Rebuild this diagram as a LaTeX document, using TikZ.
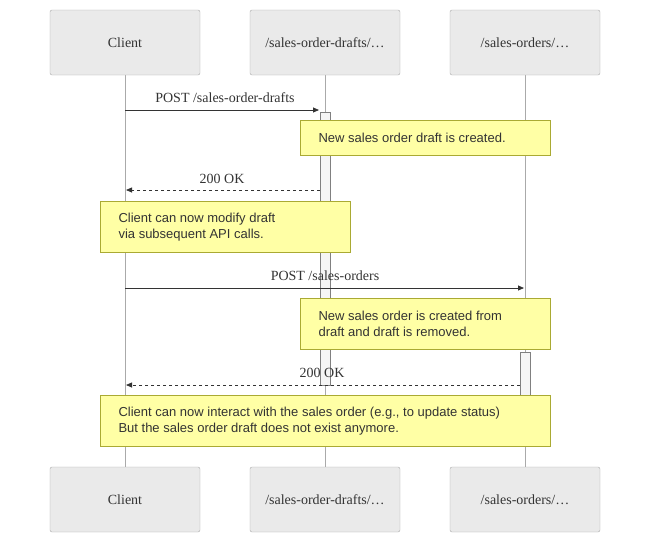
\documentclass[tikz,border=0pt]{standalone}
\usepackage{fontspec}
\setmainfont{Liberation Serif}
\newfontfamily\notefont{Liberation Sans}
\usetikzlibrary{arrows.meta}
\definecolor{actfill}{HTML}{EAEAEA}
\definecolor{actline}{HTML}{AAAAAA}
\definecolor{notefill}{HTML}{FFFFA5}
\definecolor{noteline}{HTML}{AAAA33}
\definecolor{msg}{HTML}{333333}
\tikzset{
  actor/.style={draw=actline,fill=actfill,rounded corners=2pt,minimum width=150pt,minimum height=65pt,font=\fontsize{14}{16}\selectfont,text=msg},
  life/.style={draw=actline,line width=0.6pt},
  activ/.style={draw=gray,fill=black!4},
  note/.style={draw=noteline,fill=notefill,line width=0.6pt},
  notetext/.style={font=\notefont\fontsize{13}{16}\selectfont,align=left,anchor=west,text=msg},
  msgline/.style={draw=msg,line width=0.8pt,-{Triangle[length=6pt,width=5pt]}},
  msglabel/.style={font=\fontsize{14}{16}\selectfont,text=msg},
}
\begin{document}
\begin{tikzpicture}[x=1pt,y=-1pt]
\useasboundingbox (0,0) rectangle (650,533);
% lifelines
\draw[life] (125,75) -- (125,467);
\draw[life] (325,75) -- (325,467);
\draw[life] (525,75) -- (525,467);
% actors
\node[actor] (c1) at (125,42.5) {Client};
\node[actor] (d1) at (325,42.5) {/sales-order-drafts/\dots};
\node[actor] (s1) at (525,42.5) {/sales-orders/\dots};
\node[actor] (c2) at (125,499.5) {Client};
\node[actor] (d2) at (325,499.5) {/sales-order-drafts/\dots};
\node[actor] (s2) at (525,499.5) {/sales-orders/\dots};
% activations
\draw[activ] (320,112) rectangle (330,385);
\draw[activ] (520,352) rectangle (530,445);
% message 1
\coordinate (m1a) at (125,110); \coordinate (m1b) at (319,110);
\draw[msgline] (m1a) -- (m1b);
\node[msglabel] (l1) at (225,98) {POST /sales-order-drafts};
\draw[note] (300,120) rectangle (550,155);
\node[notetext] (n1) at (315,138) {New sales order draft is created.};
% message 2
\coordinate (m2a) at (320,190); \coordinate (m2b) at (126,190);
\draw[msgline,dashed] (m2a) -- (m2b);
\node[msglabel] (l2) at (222,179) {200 OK};
\draw[note] (100,201) rectangle (350,252);
\node[notetext] (n2) at (115,227) {Client can now modify draft\\via subsequent API calls.};
% message 3
\coordinate (m3a) at (125,288); \coordinate (m3b) at (524,288);
\draw[msgline] (m3a) -- (m3b);
\node[msglabel] (l3) at (325,276) {POST /sales-orders};
\draw[note] (300,298) rectangle (550,349);
\node[notetext] (n3) at (315,324) {New sales order is created from\\draft and draft is removed.};
% message 4
\coordinate (m4a) at (520,385); \coordinate (m4b) at (126,385);
\draw[msgline,dashed] (m4a) -- (m4b);
\node[msglabel] (l4) at (322,373) {200 OK};
\draw[note] (100,395) rectangle (550,446);
\node[notetext] (n4) at (115,421) {Client can now interact with the sales order (e.g., to update status)\\But the sales order draft does not exist anymore.};
\end{tikzpicture}
\end{document}
